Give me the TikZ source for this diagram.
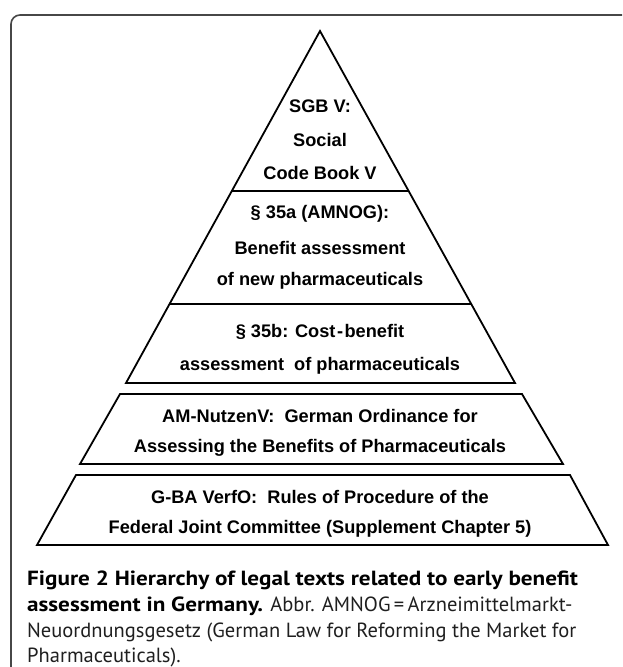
\documentclass[tikz,border=0pt]{standalone}
\usepackage{fontspec}
\setmainfont{Liberation Sans}
\newfontfamily\capfont[BoldFeatures={FakeStretch=1.13}]{PT Sans}
\begin{document}
\begin{tikzpicture}[x=1pt,y=-1pt,
  tier/.style={draw=black,line width=1.8pt,line join=miter},
  lbl/.style={font=\bfseries\fontsize{18.2}{21}\selectfont,inner sep=0pt,anchor=center},
  captxt/.style={font=\capfont\fontsize{20.5}{24}\selectfont,inner sep=0pt,anchor=base west,text=black!88}]
\clip (0,0) rectangle (622,667);
\fill[white] (0,0) rectangle (622,667);
% frame
\draw[draw=black!72,line width=1.6pt,rounded corners=9pt] (11,700) -- (11,15) -- (700,15);
% pyramid (tiers 1-3)
\coordinate (apex) at (320,31);
\coordinate (b3l) at (126,383);
\coordinate (b3r) at (515,383);
\draw[tier] (apex) -- (b3r) -- (b3l) -- cycle;
\coordinate (l1) at (231.8,191);
\coordinate (r1) at (408.5,191);
\coordinate (l2) at (169.5,304);
\coordinate (r2) at (470.8,304);
\draw[tier] (l1) -- (r1);
\draw[tier] (l2) -- (r2);
% tier 4
\draw[tier] (120,394) -- (522,394) -- (563,464) -- (80,464) -- cycle;
% tier 5
\draw[tier] (76,475) -- (570,475) -- (608,545) -- (37,545) -- cycle;
% labels
\node[lbl] (t1a) at (320,106) {SGB V:};
\node[lbl] (t1b) at (320,140) {Social};
\node[lbl] (t1c) at (320,173) {Code Book V};
\node[lbl] (t2a) at (320,214) {\S\ 35a (AMNOG):};
\node[lbl] (t2b) at (320,248) {Benefit assessment};
\node[lbl] (t2c) at (320,281) {of new pharmaceuticals};
\node[lbl] (t3a) at (320,332) {\S\ 35b: Cost\hspace{1.5pt}-\hspace{1.5pt}benefit};
\node[lbl] (t3b) at (320,366) {assessment\ \ of pharmaceuticals};
\node[lbl] (t4a) at (320,416) {AM-NutzenV:\ \ German\ Ordinance for};
\node[lbl] (t4b) at (320,448) {Assessing the Benefits of Pharmaceuticals};
\node[lbl] (t5a) at (320,497) {G-BA VerfO:\ \ Rules of Procedure of the};
\node[lbl] (t5b) at (320,529) {Federal Joint Committee (Supplement Chapter 5)};
% caption
\node[captxt] (c1) at (27,585) {\bfseries\color{black}Figure 2 Hierarchy of legal texts related to early benefit};
\node[captxt] (c2) at (27,611) {\textbf{\color{black}assessment in Germany.} Abbr. AMNOG\,=\,Arzneimittelmarkt-};
\node[captxt] (c3) at (27,637) {Neuordnungsgesetz (German Law for Reforming the Market for};
\node[captxt] (c4) at (27,662) {Pharmaceuticals).};
\end{tikzpicture}
\end{document}
